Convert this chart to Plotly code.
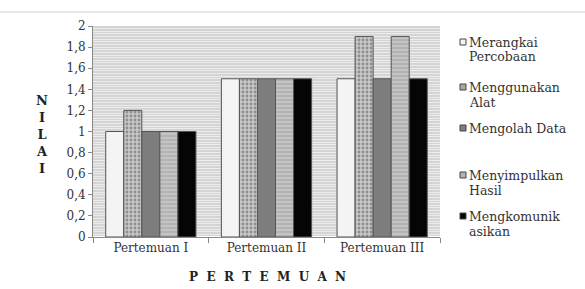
import plotly.graph_objects as go

categories = ["Pertemuan I", "Pertemuan II", "Pertemuan III"]
series_names = ["Merangkai Percobaan", "Menggunakan Alat", "Mengolah Data",
                "Menyimpulkan Hasil", "Mengkomunikasikan"]
legend_lines = [["Merangkai", "Percobaan"], ["Menggunakan", "Alat"], ["Mengolah Data"],
                ["Menyimpulkan", "Hasil"], ["Mengkomunik", "asikan"]]
merangkai = [1.0, 1.5, 1.5]
menggunakan = [1.2, 1.5, 1.9]
mengolah = [1.0, 1.5, 1.5]
menyimpulkan = [1.0, 1.5, 1.9]
mengkomunikasikan = [1.0, 1.5, 1.5]
y_ticks = [0, 0.2, 0.4, 0.6, 0.8, 1, 1.2, 1.4, 1.6, 1.8, 2]
y_tick_labels = ["0", "0,2", "0,4", "0,6", "0,8", "1", "1,2", "1,4", "1,6", "1,8", "2"]

values = [merangkai, menggunakan, mengolah, menyimpulkan, mengkomunikasikan]
fills = ["#f4f4f4", "#a8a8a8", "#7d7d7d", "#b4b4b4", "#050505"]
patterns = [None,
            dict(shape=".", fgcolor="#555555", bgcolor="#c8c8c8", size=4, solidity=0.4),
            None,
            dict(shape="-", fgcolor="#8a8a8a", bgcolor="#c4c4c4", size=4, solidity=0.3),
            None]

serif = "DejaVu Serif"

# plot area in pixels: x 93..440, y 26..237
L, R, T, B = 93, 440, 26, 237
W, H = 585, 289
def px(x):
    return (x - L) / (R - L)
def py(y):
    return (B - y) / (B - T)

fig = go.Figure()
for name, vals, col, pat in zip(series_names, values, fills, patterns):
    marker = dict(color=col, line=dict(color="#555555", width=1))
    if pat:
        marker["pattern"] = pat
    fig.add_trace(go.Bar(x=categories, y=vals, name=name, marker=marker))

sp = "&nbsp;&nbsp;"
annotations = [
    dict(text="<b>N<br>I<br>L<br>A<br>I</b>", xref="paper", yref="paper",
         x=px(34), y=py(134), showarrow=False, align="center",
         font=dict(family=serif, size=13, color="#222222")),
    dict(text="<b>" + sp.join("PERTEMUAN") + "</b>", xref="paper", yref="paper",
         x=px(267), y=py(277), yanchor="middle", showarrow=False,
         font=dict(family=serif, size=12, color="#222222")),
]
shapes = [dict(type="line", xref="paper", yref="paper", x0=px(0), x1=px(W),
               y0=py(12), y1=py(12), line=dict(color="#d0d0d0", width=1))]

# custom legend (text + swatches)
legend_rows = [42, 87, 128, 175, 216]
for lines, col, yc in zip(legend_lines, fills, legend_rows):
    for i, line in enumerate(lines):
        annotations.append(dict(text=line, xref="paper", yref="paper", x=px(467), y=py(yc + 15 * i),
                                xanchor="left", yanchor="middle", align="left", showarrow=False,
                                font=dict(family=serif, size=12.5, color="#333333")))
    shapes.append(dict(type="rect", xref="paper", yref="paper",
                       x0=px(460), x1=px(466), y0=py(yc - 3), y1=py(yc + 3),
                       fillcolor=col, line=dict(color="#444444", width=1)))

fig.update_layout(
    width=W, height=H,
    margin=dict(l=L, r=W - R, t=T, b=H - B, autoexpand=False),
    paper_bgcolor="white",
    plot_bgcolor="#d4d4d4",
    barmode="group", bargap=0.22, bargroupgap=0,
    font=dict(family=serif, size=12, color="#333333"),
    showlegend=False,
    xaxis=dict(showgrid=False, showline=True, linecolor="#888888",
               ticks="outside", tickson="boundaries", ticklen=5, tickcolor="#888888",
               tickfont=dict(family=serif, size=12, color="#333333")),
    yaxis=dict(range=[0, 2], tickvals=y_ticks, ticktext=y_tick_labels,
               showline=True, linecolor="#888888", ticks="outside", ticklen=4,
               tickcolor="#888888", showgrid=False,
               minor=dict(dtick=0.025, showgrid=True, gridcolor="#ececec", gridwidth=1),
               tickfont=dict(family=serif, size=12, color="#333333")),
    annotations=annotations,
    shapes=shapes,
)

fig.write_html("out.html", config={"displayModeBar": False},
               post_script="document.body.style.margin='0';")
